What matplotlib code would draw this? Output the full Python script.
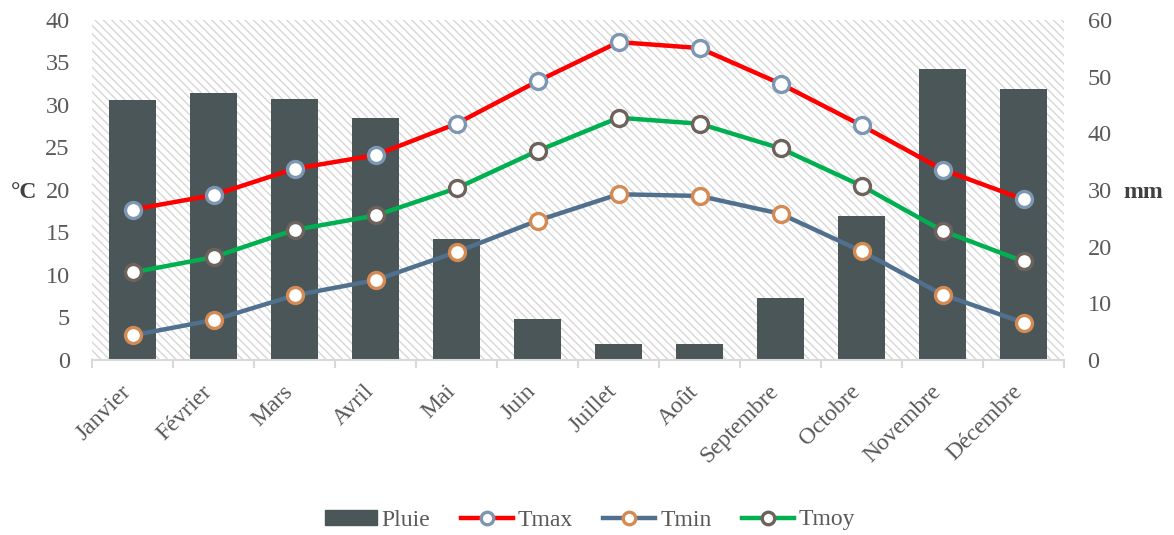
import matplotlib
matplotlib.use("Agg")
import matplotlib.pyplot as plt
import matplotlib.transforms as mtransforms
from matplotlib.patches import Rectangle, Patch
from matplotlib.lines import Line2D
import numpy as np

months = ["Janvier", "Février", "Mars", "Avril", "Mai", "Juin", "Juillet",
          "Août", "Septembre", "Octobre", "Novembre", "Décembre"]
pluie = [45.9, 47.2, 46.0, 42.7, 21.4, 7.2, 2.9, 2.9, 11.0, 25.4, 51.4, 47.9]
tmax = [17.7, 19.4, 22.5, 24.1, 27.8, 32.8, 37.4, 36.7, 32.5, 27.6, 22.4, 18.9]
tmin = [2.9, 4.7, 7.6, 9.4, 12.7, 16.4, 19.5, 19.3, 17.2, 12.8, 7.7, 4.4]
tmoy = [10.3, 12.1, 15.3, 17.0, 20.2, 24.6, 28.5, 27.8, 24.9, 20.5, 15.2, 11.6]

plt.rcParams['font.family'] = ['Liberation Serif', 'DejaVu Serif']
plt.rcParams['hatch.linewidth'] = 1.0

txt = '#595959'
bar_c = '#4A5658'

fig = plt.figure(figsize=(11.74, 5.35), dpi=100)
ax = fig.add_axes([92/1174, 1-360/535, (1064-92)/1174, 340/535])
x = np.arange(len(months))
ax2 = ax.twinx()

# hatched background
ax.patch.set_visible(False)
bg = Rectangle((0, 0), 1, 1, transform=ax.transAxes, facecolor='white',
               edgecolor='#D6D6D6', hatch='\\\\\\\\', linewidth=0, zorder=0)
ax.add_patch(bg)

ax.bar(x, pluie, width=0.57, color=bar_c, zorder=2)
ax.set_ylim(0, 60)
ax.set_xlim(-0.5, 11.5)
ax.yaxis.tick_right()
ax.set_yticks(range(0, 61, 10))
ax.tick_params(axis='y', length=0, labelsize=17.5, labelcolor=txt, pad=17)

ax.set_xticks(np.arange(-0.5, 12, 1))
ax.set_xticklabels([])
ax.set_xticks(x, minor=True)
ax.set_xticklabels(months, minor=True, rotation=45, ha='right',
                   rotation_mode='anchor', fontsize=17, color=txt)
ax.tick_params(axis='x', which='major', length=6, color='#D9D9D9', width=1.5)
ax.tick_params(axis='x', which='minor', length=0, pad=13)
off = mtransforms.ScaledTranslation(-12/100, -3/100, fig.dpi_scale_trans)
for lab in ax.get_xticklabels(minor=True):
    lab.set_transform(lab.get_transform() + off)
for s in ['top', 'left', 'right']:
    ax.spines[s].set_visible(False)
ax.spines['bottom'].set_color('#D9D9D9')
ax.spines['bottom'].set_linewidth(1.5)

ax2.set_ylim(0, 40)
ax2.yaxis.tick_left()
ax2.set_yticks(range(0, 41, 5))
ax2.tick_params(axis='y', length=0, labelsize=17.5, labelcolor=txt, pad=16)
for s in ax2.spines.values():
    s.set_visible(False)

ms = 11.5
mew = 2.4
lw = 3.2
ax2.plot(x, tmax, color='#FF0000', lw=lw, marker='o', ms=ms, mfc='white',
         mec='#7D97B3', mew=mew, zorder=3)
ax2.plot(x, tmin, color='#50708E', lw=lw, marker='o', ms=ms, mfc='white',
         mec='#D48A52', mew=mew, zorder=3)
ax2.plot(x, tmoy, color='#00B050', lw=lw, marker='o', ms=ms, mfc='white',
         mec='#6E625C', mew=mew, zorder=3)

fig.text(24/1174, 1-192/535, '°C', fontsize=17, fontweight='bold',
         color='#404040', ha='center', va='center')
fig.text(1143/1174, 1-192/535, 'mm', fontsize=17, fontweight='bold',
         color='#404040', ha='center', va='center')

handles = [
    Patch(facecolor=bar_c, edgecolor=bar_c),
    Line2D([], [], color='#FF0000', lw=lw, marker='o', ms=9, mfc='white', mec='#7D97B3', mew=2.4),
    Line2D([], [], color='#50708E', lw=lw, marker='o', ms=9, mfc='white', mec='#D48A52', mew=2.4),
    Line2D([], [], color='#00B050', lw=lw, marker='o', ms=9, mfc='white', mec='#6E625C', mew=2.4),
]
leg = fig.legend(handles, ['Pluie', 'Tmax', 'Tmin', 'Tmoy'], loc='center',
                 bbox_to_anchor=(590/1174, 1-520/535), ncol=4, frameon=False,
                 fontsize=17, handlelength=2.2, handletextpad=0.2, columnspacing=1.3,
                 handleheight=0.6)
for t in leg.get_texts():
    t.set_color(txt)

fig.savefig('out.png', dpi=100)
